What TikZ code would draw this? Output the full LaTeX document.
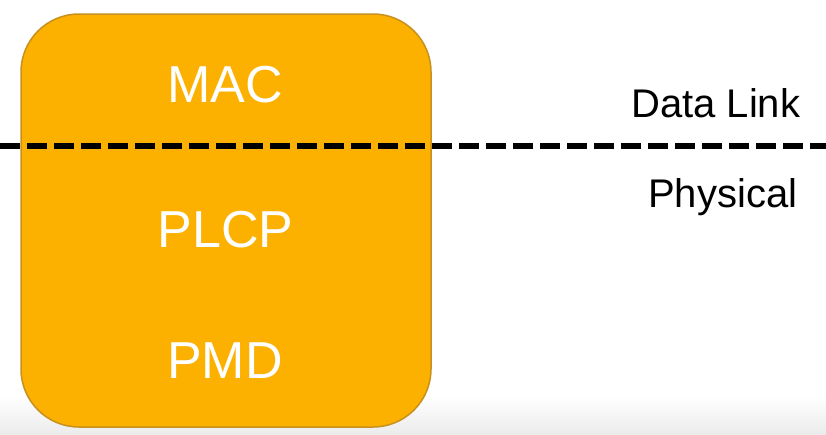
\documentclass[tikz,border=0pt]{standalone}
\usepackage{fontspec}
\setmainfont{Liberation Sans}
\definecolor{boxfill}{HTML}{FCB000}
\definecolor{boxedge}{HTML}{C8901C}
\definecolor{bandgray}{HTML}{ECECEC}
\tikzset{
  layerlabel/.style={text=white, font=\fontsize{52}{60}\selectfont, anchor=base, inner sep=0pt},
  sidelabel/.style={text=black, font=\fontsize{40}{48}\selectfont, anchor=base west, inner sep=0pt},
  divider/.style={draw=black, line width=6pt, dash pattern=on 20pt off 7pt}
}
\begin{document}
\begin{tikzpicture}[x=1pt,y=-1pt]
  \useasboundingbox (0,0) rectangle (826,434);
  \fill[white] (0,0) rectangle (826,434);
  \shade[top color=white, bottom color=bandgray] (0,395) rectangle (826,434);
  \node[draw=boxedge, line width=1.5pt, fill=boxfill, rounded corners=58pt,
        minimum width=410pt, minimum height=413pt, inner sep=0pt] (box) at (226,220.5) {};
  \node[layerlabel] (mac) at (225,102) {MAC};
  \node[layerlabel] (plcp) at (225.5,247) {PLCP};
  \node[layerlabel] (pmd) at (225,378) {PMD};
  \coordinate (lineL) at (0,146);
  \coordinate (lineR) at (826,146);
  \draw[divider] (lineL) -- (lineR);
  \node[sidelabel] (dl) at (631,117) {Data Link};
  \node[sidelabel] (ph) at (648,207) {Physical};
\end{tikzpicture}
\end{document}
